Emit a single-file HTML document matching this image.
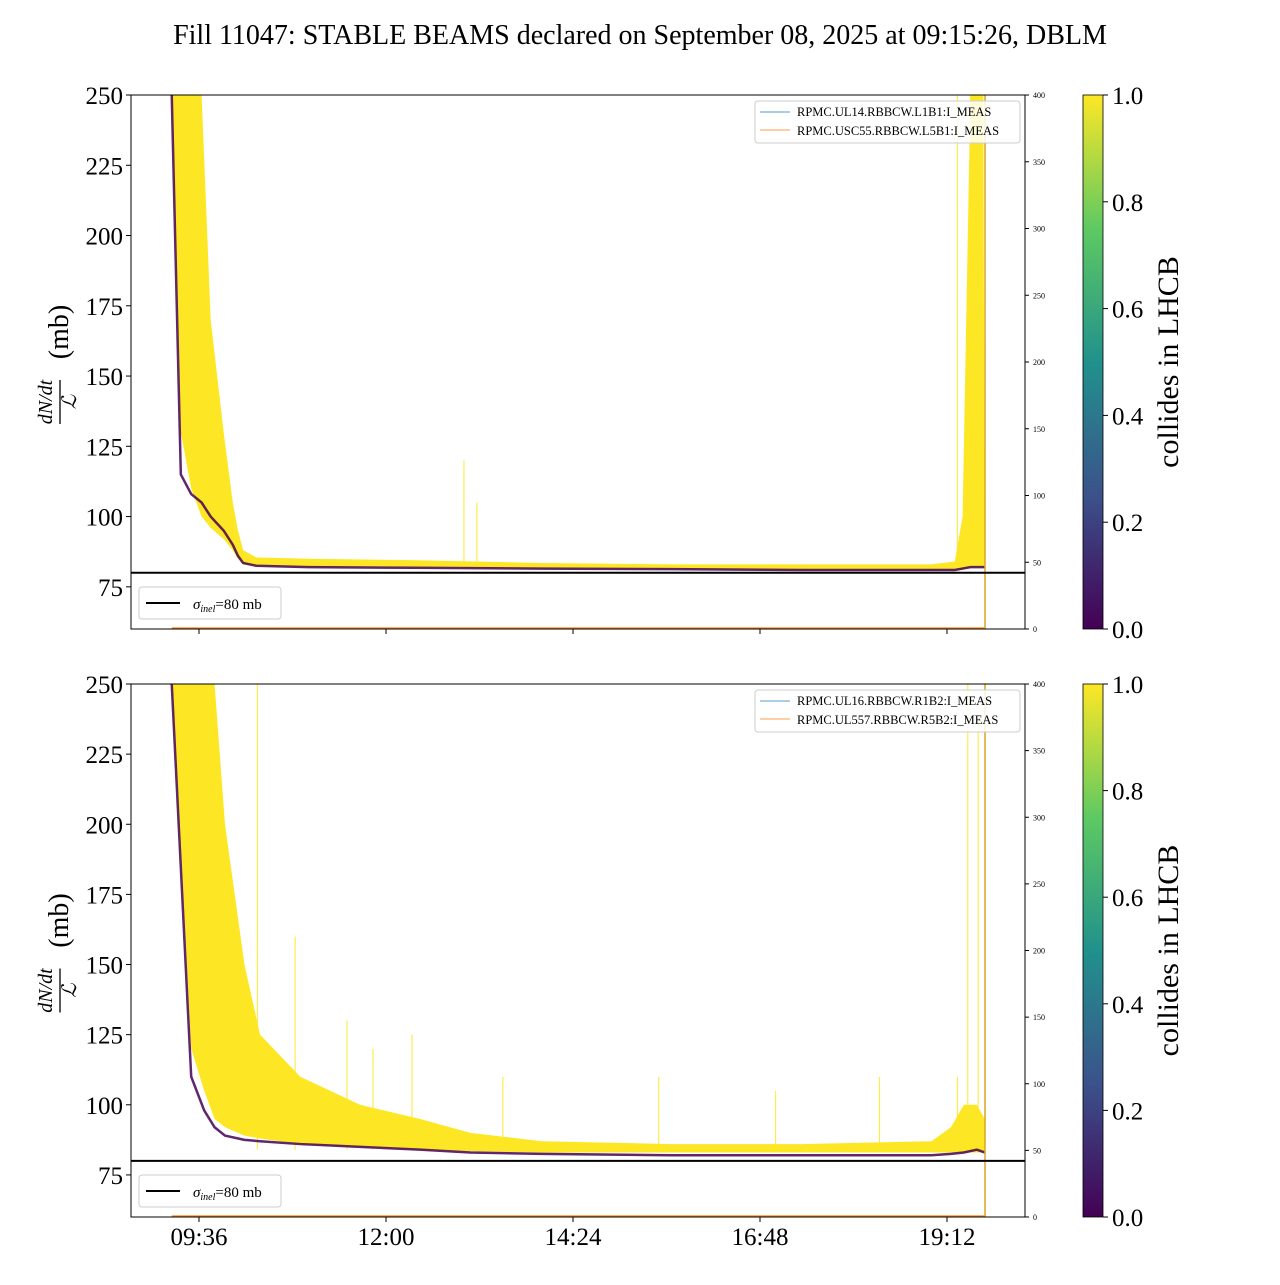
<!DOCTYPE html>
<html><head><meta charset="utf-8"><style>
body{margin:0;background:#fff;}
svg text{font-family:"Liberation Serif","DejaVu Serif",serif;}
</style></head><body>
<svg id="c" width="1280" height="1280" xmlns="http://www.w3.org/2000/svg">
<defs><linearGradient id="vir" x1="0" y1="1" x2="0" y2="0">
<stop offset="0" stop-color="#440154"/><stop offset="0.25" stop-color="#3b528b"/><stop offset="0.5" stop-color="#21918c"/><stop offset="0.75" stop-color="#5ec962"/><stop offset="1" stop-color="#fde725"/></linearGradient></defs>
<text x="640" y="44" text-anchor="middle" font-size="28">Fill 11047: STABLE BEAMS declared on September 08, 2025 at 09:15:26, DBLM</text>
</svg>
<script>
// minutes since 09:00
const topT=[15,22,30,38,45,55,62,66,70,80,120,200,300,400,500,600,618,624,630,640,641];
const topYelHi=[250,250,250,250,170,130,105,95,88,85.5,85,84.5,83.5,83,83,83,84,100,250,250,85];
const topYelLo=[250,130,110,100,96,92,88,85,83,82.5,82,82,81.5,81.5,81,81,81,81,82,82,82];
const topPur=[250,115,108,105,100,95,90,86,83.5,82.5,82,81.8,81.5,81.3,81,81,81,81.5,82,82,82];
const botT=[15,30,40,48,56,71,83,114,160,206,245,300,400,500,600,615,625,635,641];
const botYelHi=[250,250,250,250,200,150,125,110,100,95,90,87,86,86,87,92,100,100,95];
const botYelLo=[250,120,105,95,92,89,88,86,85,84,83.5,83,83,83,83,83,83,83,83];
const botPur=[250,110,98,92,89,87.5,87,86,85,84,83,82.5,82,82,82,82.5,83,84,83];
const topSpikes=[[240,120],[250,105],[620,250],[630,250]];
const botSpikes=[[81,250],[110,160],[150,130],[170,120],[200,125],[270,110],[390,110],[480,105],[560,110],[620,110],[628,250],[636,240]];
const xTicks=[36,180,324,468,612];
const xTickLabels=["09:36","12:00","14:24","16:48","19:12"];
const yTicks=[75,100,125,150,175,200,225,250];
const rTicks=[0,50,100,150,200,250,300,350,400];
const cTicks=[0,0.2,0.4,0.6,0.8,1.0];
const svg=document.getElementById('c');
const NS='http://www.w3.org/2000/svg';
function mk(tag,attrs,parent){const e=document.createElementNS(NS,tag);for(const k in attrs)e.setAttribute(k,attrs[k]);(parent||svg).appendChild(e);return e;}
const X0=131,X1=1025;
const xs=t=>199+(t-36)*187/144;
function panel(top,bot,T,hi,lo,pur,spikes,legA,legB,showX,pname){
  const ys=v=>top+(250-v)*(bot-top)/190;
  const g=mk('g',{});
  
  
  const cid='clip'+top;
  const cp=mk('clipPath',{id:cid},g);mk('rect',{x:X0,y:top,width:X1-X0,height:bot-top},cp);
  const d=mk('g',{'clip-path':'url(#'+cid+')'},g);
  let pts=T.map((t,i)=>xs(t)+','+ys(hi[i]));
  pts=pts.concat(T.slice().reverse().map((t,j)=>{const i=T.length-1-j;return xs(t)+','+ys(lo[i]);}));
  const band=mk('polygon',{points:pts.join(' '),fill:'#fde725'},d);
  
  
  spikes.forEach(s=>{const l=mk('line',{x1:xs(s[0]),x2:xs(s[0]),y1:ys(s[1]),y2:ys(84),stroke:'#fde725','stroke-width':1.2,opacity:0.8},d);
    
    });
  const pl=mk('polyline',{points:T.map((t,i)=>xs(t)+','+ys(pur[i])).join(' '),fill:'none',stroke:'#440154','stroke-width':2.5,opacity:0.85},d);
  
  
  mk('line',{x1:xs(15),x2:xs(641),y1:bot-1,y2:bot-1,stroke:'#ff7f0e','stroke-width':1.2},d);
  mk('line',{x1:985,x2:985,y1:top,y2:bot,stroke:'#d9a520','stroke-width':1.5},d);
  const sl=mk('line',{x1:X0,x2:X1,y1:ys(80),y2:ys(80),stroke:'#000','stroke-width':2},g);
  
  
  mk('rect',{x:X0,y:top,width:X1-X0,height:bot-top,fill:'none',stroke:'#000','stroke-width':1},g);
  yTicks.forEach(v=>{mk('line',{x1:X0-5,x2:X0,y1:ys(v),y2:ys(v),stroke:'#000'},g);
    const t=mk('text',{x:X0-8,y:ys(v)+9,'text-anchor':'end','font-size':25},g);t.textContent=v;
    
    });
  rTicks.forEach(v=>{const y=bot-v*(bot-top)/400;mk('line',{x1:X1,x2:X1+4,y1:y,y2:y,stroke:'#000'},g);
    const t=mk('text',{x:X1+8,y:y+3,'font-size':8,'font-family':'Liberation Sans'},g);t.textContent=v;
    
    });
  xTicks.forEach((v,i)=>{mk('line',{x1:xs(v),x2:xs(v),y1:bot,y2:bot+5,stroke:'#000'},g);
    if(showX){const t=mk('text',{x:xs(v),y:bot+28,'text-anchor':'middle','font-size':25},g);t.textContent=xTickLabels[i];
    
    }});
  const yl=mk('g',{transform:'translate(60,'+((top+bot)/2)+') rotate(-90)'},g);
  
  
  const a=mk('text',{x:-40,y:-8,'text-anchor':'middle','font-size':20,'font-style':'italic'},yl);a.textContent='dN/dt';
  mk('line',{x1:-62,x2:-18,y1:0,y2:0,stroke:'#000','stroke-width':1.3},yl);
  const b=mk('text',{x:-40,y:16,'text-anchor':'middle','font-size':20,'font-style':'italic'},yl);b.textContent='ℒ';
  const c=mk('text',{x:30,y:8,'text-anchor':'middle','font-size':28},yl);c.textContent='(mb)';
  const lg=mk('g',{},g);
  
  
  mk('rect',{x:755,y:top+6,width:265,height:42,rx:3,fill:'#fff',stroke:'#ccc','fill-opacity':0.85},lg);
  mk('line',{x1:760,x2:790,y1:top+17,y2:top+17,stroke:'#1f77b4','stroke-width':0.8},lg);
  mk('line',{x1:760,x2:790,y1:top+35,y2:top+35,stroke:'#ff7f0e','stroke-width':0.8},lg);
  let t1=mk('text',{x:797,y:top+21,'font-size':12.5},lg);t1.textContent=legA;
  let t2=mk('text',{x:797,y:top+40,'font-size':12.5},lg);t2.textContent=legB;
  const sg=mk('g',{},g);
  
  
  mk('rect',{x:139,y:bot-42,width:142,height:32,rx:3,fill:'#fff',stroke:'#ccc'},sg);
  mk('line',{x1:146,x2:180,y1:bot-26,y2:bot-26,stroke:'#000','stroke-width':2},sg);
  const st=mk('text',{x:193,y:bot-20,'font-size':15},sg);
  st.innerHTML='<tspan font-style="italic">σ</tspan><tspan font-size="10" font-style="italic" dy="3">inel</tspan><tspan dy="-3">=80 mb</tspan>';
  const cb=mk('g',{},g);
  
  
  mk('rect',{x:1083,y:top,width:20,height:bot-top,fill:'url(#vir)',stroke:'#000','stroke-width':0.8},cb);
  cTicks.forEach(v=>{const y=bot-v*(bot-top);mk('line',{x1:1103,x2:1108,y1:y,y2:y,stroke:'#000'},cb);
    const t=mk('text',{x:1112,y:y+9,'font-size':25},cb);t.textContent=v.toFixed(1);
    
    });
  const ct=mk('text',{x:0,y:0,'font-size':30,'text-anchor':'middle',transform:'translate(1178,'+((top+bot)/2)+') rotate(-90)'},cb);ct.textContent='collides in LHCB';
}
panel(95,629,topT,topYelHi,topYelLo,topPur,topSpikes,'RPMC.UL14.RBBCW.L1B1:I_MEAS','RPMC.USC55.RBBCW.L5B1:I_MEAS',false,'top-panel');
panel(684,1217,botT,botYelHi,botYelLo,botPur,botSpikes,'RPMC.UL16.RBBCW.R1B2:I_MEAS','RPMC.UL557.RBBCW.R5B2:I_MEAS',true,'bottom-panel');
</script>
</body></html>
